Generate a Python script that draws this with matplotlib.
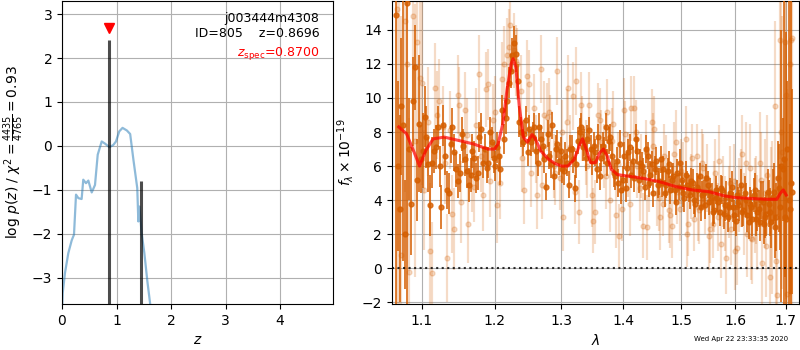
#!/usr/bin/env python3
"""p(z) y espectro 1D (G141) de j003444m4308 ID=805."""
import numpy as np
import matplotlib
matplotlib.use("Agg")
import matplotlib.pyplot as plt
from matplotlib.ticker import FixedLocator, FixedFormatter, NullLocator

OUT = "out.png"
G141 = (0.8353, 0.3686, 0.0)

# --- p(z) ---
Z_GRID = [0.0, 0.013, 0.055, 0.116, 0.178, 0.22, 0.257, 0.30, 0.36, 0.39, 0.44,
          0.483, 0.545, 0.605, 0.655, 0.728, 0.79, 0.87, 0.94, 0.99, 1.05, 1.11,
          1.19, 1.25, 1.31, 1.38, 1.40, 1.42, 1.46, 1.51, 1.565, 1.615, 1.66]
LOG_PZ = [-3.8, -3.35, -2.89, -2.44, -2.15, -2.02, -1.11, -1.19, -1.21, -0.77, -0.85,
          -0.79, -1.06, -0.89, -0.20, 0.10, 0.05, -0.03, 0.02, 0.10, 0.33, 0.41,
          0.35, 0.27, -0.32, -0.96, -1.72, -1.38, -1.98, -2.44, -3.08, -3.58, -4.2]
PEAK_Z = [0.87, 1.45]
PEAK_LOGP = [2.41, -0.80]
Z_BEST = 0.8696
Z_SPEC = 0.8700

# --- espectro: dos PAs (oscuras), dos series claras + modelo ---
WAVE_A = [1.066, 1.071, 1.076, 1.081, 1.086, 1.091, 1.096, 1.101, 1.106, 1.111,
          1.116, 1.121, 1.126, 1.131, 1.136, 1.141, 1.146, 1.151, 1.156, 1.161,
          1.166, 1.171, 1.176, 1.181, 1.186, 1.191, 1.196, 1.201, 1.206, 1.211,
          1.216, 1.221, 1.226, 1.231, 1.236, 1.241, 1.246, 1.251, 1.256, 1.261,
          1.266, 1.271, 1.276, 1.281, 1.286, 1.291, 1.296, 1.301, 1.306, 1.311,
          1.316, 1.321, 1.326, 1.331, 1.336, 1.341, 1.346, 1.351, 1.356, 1.361,
          1.366, 1.371, 1.376, 1.381, 1.386, 1.391, 1.396, 1.401, 1.406, 1.411,
          1.416, 1.421, 1.426, 1.431, 1.436, 1.441, 1.446, 1.451, 1.456, 1.461,
          1.466, 1.471, 1.476, 1.481, 1.486, 1.491, 1.496, 1.501, 1.506, 1.511,
          1.516, 1.521, 1.526, 1.531, 1.536, 1.541, 1.546, 1.551, 1.556, 1.561,
          1.566, 1.571, 1.576, 1.581, 1.586, 1.591, 1.596, 1.601, 1.606, 1.611,
          1.616, 1.621, 1.626, 1.631, 1.636, 1.641, 1.646, 1.651, 1.656, 1.661,
          1.666, 1.671, 1.676, 1.681, 1.686, 1.691, 1.696, 1.701, 1.706, 1.711]
FLUX_A = [14.9, 3.5, 8.4, 15.6, 3.8, 11.8, 8.5, 6.9, 7.7, 3.7,
          6.9, 8.3, 3.6, 6.6, 4.4, 8.3, 5.8, 5.6, 7.2, 5.7,
          5.5, 6.5, 5.6, 8.2, 7.0, 6.2, 7.4, 6.0, 6.6, 9.3,
          8.8, 10.9, 12.5, 12.6, 8.6, 7.4, 8.7, 8.2, 7.7, 6.9,
          8.3, 7.2, 4.8, 6.6, 8.4, 7.0, 6.3, 5.8, 6.6, 4.9,
          7.0, 4.7, 7.5, 8.3, 7.4, 7.6, 7.0, 7.2, 5.8, 5.4,
          7.2, 8.3, 7.5, 6.6, 5.4, 5.0, 4.6, 6.6, 5.9, 7.1,
          6.3, 7.6, 5.2, 6.0, 4.8, 6.6, 5.5, 4.4, 6.3, 5.1,
          5.0, 4.4, 5.7, 4.6, 5.4, 3.9, 4.8, 5.2, 4.1, 4.9,
          4.3, 5.0, 3.8, 4.6, 3.6, 4.4, 5.3, 3.9, 4.2, 3.4,
          4.1, 3.3, 4.6, 3.7, 3.0, 4.4, 3.6, 2.8, 3.9, 4.9,
          3.4, 4.0, 2.7, 3.6, 4.3, 2.9, 3.5, 4.0, 2.6, 3.2,
          3.8, 2.7, 4.5, 3.0, 4.7, 6.0, 6.4, 2.9, 4.0, 5.0]
ERR_A = [22, 5.5, 8, 18, 3.0, 2.5, 4.0, 2.2, 1.8, 1.8,
         1.3, 1.2, 1.3, 1.1, 1.2, 1.1, 1.0, 1.1, 1.0, 1.0,
         1.0, 1.0, 1.0, 0.9, 0.9, 0.9, 0.9, 0.9, 0.9, 0.9,
         0.9, 0.9, 1.0, 1.1, 0.9, 0.8, 0.8, 0.8, 0.9, 0.8,
         0.8, 0.8, 0.8, 0.8, 0.8, 0.8, 0.8, 0.8, 0.8, 0.8,
         0.8, 0.8, 0.8, 0.8, 0.8, 0.8, 0.8, 0.8, 0.8, 0.8,
         0.8, 0.8, 0.8, 0.8, 0.8, 0.8, 0.8, 0.8, 0.9, 0.8,
         0.8, 0.9, 0.8, 0.8, 0.8, 0.8, 0.8, 0.8, 0.8, 0.8,
         0.8, 0.8, 0.8, 0.8, 0.8, 0.8, 0.8, 0.8, 0.8, 0.8,
         0.8, 0.8, 0.8, 0.8, 0.8, 0.8, 0.8, 0.8, 0.8, 0.8,
         0.8, 0.8, 0.8, 0.9, 0.9, 0.9, 0.9, 0.9, 0.9, 0.9,
         0.9, 1.0, 1.0, 1.0, 1.0, 1.0, 1.1, 1.1, 1.2, 1.3,
         1.4, 1.5, 1.7, 2.0, 2.6, 8.0, 10.0, 11.0, 13.0, 15.0]

WAVE_C = [1.0685, 1.0735, 1.0785, 1.0835, 1.0885, 1.0935, 1.0985, 1.1035, 1.1085, 1.1135,
          1.1185, 1.1235, 1.1285, 1.1335, 1.1385, 1.1435, 1.1485, 1.1535, 1.1585, 1.1635,
          1.1685, 1.1735, 1.1785, 1.1835, 1.1885, 1.1935, 1.1985, 1.2035, 1.2085, 1.2135,
          1.2185, 1.2235, 1.2285, 1.2335, 1.2385, 1.2435, 1.2485, 1.2535, 1.2585, 1.2635,
          1.2685, 1.2735, 1.2785, 1.2835, 1.2885, 1.2935, 1.2985, 1.3035, 1.3085, 1.3135,
          1.3185, 1.3235, 1.3285, 1.3335, 1.3385, 1.3435, 1.3485, 1.3535, 1.3585, 1.3635,
          1.3685, 1.3735, 1.3785, 1.3835, 1.3885, 1.3935, 1.3985, 1.4035, 1.4085, 1.4135,
          1.4185, 1.4235, 1.4285, 1.4335, 1.4385, 1.4435, 1.4485, 1.4535, 1.4585, 1.4635,
          1.4685, 1.4735, 1.4785, 1.4835, 1.4885, 1.4935, 1.4985, 1.5035, 1.5085, 1.5135,
          1.5185, 1.5235, 1.5285, 1.5335, 1.5385, 1.5435, 1.5485, 1.5535, 1.5585, 1.5635,
          1.5685, 1.5735, 1.5785, 1.5835, 1.5885, 1.5935, 1.5985, 1.6035, 1.6085, 1.6135,
          1.6185, 1.6235, 1.6285, 1.6335, 1.6385, 1.6435, 1.6485, 1.6535, 1.6585, 1.6635,
          1.6685, 1.6735, 1.6785, 1.6835, 1.6885, 1.6935, 1.6985, 1.7035, 1.7085, 1.7135]
FLUX_C = [6.0, 9.5, 2.0, 7.0, 9.8, 5.2, 6.4, 8.9, 6.1, 6.2,
          7.1, 6.0, 8.4, 4.6, 7.3, 6.8, 5.1, 7.9, 6.4, 4.9,
          6.9, 5.3, 7.7, 6.2, 5.9, 8.0, 6.5, 7.1, 5.8, 7.6,
          9.8, 11.6, 13.2, 11.0, 8.0, 7.9, 6.8, 7.4, 8.3, 6.2,
          7.6, 6.4, 7.9, 6.1, 5.4, 7.3, 6.9, 5.7, 6.2, 7.0,
          6.4, 6.1, 8.0, 7.1, 6.5, 8.1, 6.3, 6.8, 7.7, 6.5,
          6.9, 6.2, 7.7, 5.6, 6.3, 7.3, 5.2, 4.7, 6.8, 5.5,
          5.3, 6.9, 6.2, 5.7, 7.0, 5.0, 6.1, 5.8, 4.9, 6.4,
          5.8, 4.9, 6.1, 5.2, 4.6, 5.6, 6.2, 4.4, 5.5, 4.7,
          5.1, 4.0, 4.8, 5.4, 4.3, 3.7, 4.9, 4.5, 3.3, 4.6,
          3.9, 4.7, 3.2, 4.2, 3.6, 4.8, 3.1, 4.3, 3.7, 3.3,
          4.4, 3.1, 3.8, 2.9, 4.6, 3.3, 2.7, 3.9, 3.0, 4.5,
          3.3, 4.2, 2.4, 5.3, 3.6, 5.8, 3.0, 7.0, 3.5, 4.5]
ERR_C = [5.0, 4.0, 3.2, 3.0, 2.6, 2.4, 2.0, 1.8, 1.6, 1.5,
         1.3, 1.2, 1.2, 1.1, 1.1, 1.1, 1.0, 1.0, 1.0, 1.0,
         1.0, 0.9, 0.9, 0.9, 0.9, 0.9, 0.9, 0.9, 0.9, 0.9,
         0.9, 1.0, 1.0, 1.0, 0.9, 0.8, 0.8, 0.8, 0.8, 0.8,
         0.8, 0.8, 0.8, 0.8, 0.8, 0.8, 0.8, 0.8, 0.8, 0.8,
         0.8, 0.8, 0.8, 0.8, 0.8, 0.8, 0.8, 0.8, 0.8, 0.8,
         0.8, 0.8, 0.8, 0.8, 0.8, 0.8, 0.8, 0.8, 0.8, 0.8,
         0.8, 0.8, 0.8, 0.8, 0.8, 0.8, 0.8, 0.8, 0.8, 0.8,
         0.8, 0.8, 0.8, 0.8, 0.8, 0.8, 0.8, 0.8, 0.8, 0.8,
         0.8, 0.8, 0.8, 0.8, 0.8, 0.8, 0.8, 0.8, 0.8, 0.8,
         0.8, 0.8, 0.9, 0.9, 0.9, 0.9, 0.9, 0.9, 0.9, 0.9,
         1.0, 1.0, 1.0, 1.0, 1.0, 1.1, 1.1, 1.2, 1.2, 1.3,
         1.4, 1.6, 1.8, 2.2, 2.5, 3.0, 3.5, 4.0, 5.0, 6.0]

WAVE_B = [1.068, 1.073, 1.078, 1.083, 1.088, 1.093, 1.098, 1.103, 1.108, 1.113,
          1.118, 1.123, 1.128, 1.133, 1.138, 1.143, 1.148, 1.153, 1.158, 1.163,
          1.168, 1.173, 1.178, 1.183, 1.188, 1.193, 1.198, 1.203, 1.208, 1.213,
          1.218, 1.223, 1.228, 1.233, 1.238, 1.243, 1.248, 1.253, 1.258, 1.263,
          1.268, 1.273, 1.278, 1.283, 1.288, 1.293, 1.298, 1.303, 1.308, 1.313,
          1.318, 1.323, 1.328, 1.333, 1.338, 1.343, 1.348, 1.353, 1.358, 1.363,
          1.368, 1.373, 1.378, 1.383, 1.388, 1.393, 1.398, 1.403, 1.408, 1.413,
          1.418, 1.423, 1.428, 1.433, 1.438, 1.443, 1.448, 1.453, 1.458, 1.463,
          1.468, 1.473, 1.478, 1.483, 1.488, 1.493, 1.498, 1.503, 1.508, 1.513,
          1.518, 1.523, 1.528, 1.533, 1.538, 1.543, 1.548, 1.553, 1.558, 1.563,
          1.568, 1.573, 1.578, 1.583, 1.588, 1.593, 1.598, 1.603, 1.608, 1.613,
          1.618, 1.623, 1.628, 1.633, 1.638, 1.643, 1.648, 1.653, 1.658, 1.663,
          1.668, 1.673, 1.678, 1.683, 1.688, 1.693, 1.698, 1.703, 1.708, 1.713]
FLUX_B = [15.2, 0.8, 14.5, -0.2, 14.8, 13.3, 11.2, 4.6, 8.6, -0.3,
          10.6, 9.8, 8.3, 0.6, 8.1, 2.3, 10.2, 3.9, 9.3, 2.6,
          5.5, 8.4, 11.4, 4.3, 10.5, 5.1, 8.7, 3.7, 5.0, 12.0,
          12.5, 14.3, 12.8, 12.0, 10.4, 4.6, 11.3, 5.6, 9.4, 4.3,
          11.7, 9.0, 8.9, 8.2, 6.0, 11.6, 5.3, 3.0, 8.6, 7.1,
          10.1, 11.0, 3.3, 8.2, 6.8, 9.6, 4.3, 3.3, 9.0, 7.4,
          6.6, 9.2, 4.0, 8.5, 3.1, 1.9, 3.5, 7.9, 6.1, 9.4,
          9.4, 6.0, 4.7, 2.5, 6.8, 5.2, 8.6, 8.2, 4.4, 3.0,
          3.8, 5.9, 3.4, 2.5, 6.7, 4.5, 3.5, 5.5, 7.6, 2.6,
          4.8, 2.9, 6.6, 3.4, 6.2, 4.0, 5.3, 2.3, 2.6, 5.6,
          3.0, 1.4, 4.5, 0.6, 3.9, 2.3, 5.1, 1.2, 4.3, 6.7,
          3.2, 2.0, 5.9, 1.7, 3.7, 2.7, 6.2, 0.3, 4.4, 5.5,
          -0.5, 3.0, 9.5, -1.6, 13.4, 6.8, 13.3, -1.5, 12.0, 13.5]
ERR_B = [18, 14, 10, 9, 8, 6, 5, 3.5, 3.2, 3.0,
         2.6, 2.5, 2.4, 2.6, 2.3, 2.4, 2.3, 2.4, 2.2, 2.3,
         2.2, 2.2, 2.3, 2.1, 2.2, 2.1, 2.1, 2.2, 2.1, 2.2,
         2.2, 2.3, 2.2, 2.1, 2.1, 2.0, 2.1, 2.0, 2.0, 2.0,
         2.0, 2.0, 2.0, 2.0, 1.9, 2.0, 1.9, 2.0, 1.9, 1.9,
         2.0, 2.0, 1.9, 1.9, 1.9, 1.9, 1.9, 1.9, 1.9, 1.9,
         1.9, 1.9, 1.9, 1.9, 1.9, 1.9, 1.9, 1.9, 1.9, 1.9,
         1.9, 1.9, 1.9, 1.9, 1.9, 1.9, 1.9, 1.9, 1.9, 1.9,
         1.9, 1.9, 1.9, 1.9, 1.9, 1.9, 1.9, 1.9, 1.9, 1.9,
         1.9, 1.9, 1.9, 2.0, 2.0, 2.0, 2.0, 2.0, 2.0, 2.0,
         2.0, 2.0, 2.1, 2.1, 2.1, 2.1, 2.2, 2.2, 2.2, 2.3,
         2.4, 2.5, 2.6, 2.6, 2.8, 2.8, 3.0, 3.0, 3.2, 3.5,
         4.0, 4.5, 5.0, 6.0, 7.0, 8.0, 10.0, 12.0, 14.0, 16.0]

WAVE_D = [1.0705, 1.0805, 1.0905, 1.1005, 1.1105, 1.1205, 1.1305, 1.1405, 1.1505, 1.1605,
          1.1705, 1.1805, 1.1905, 1.2005, 1.2105, 1.2205, 1.2305, 1.2405, 1.2505, 1.2605,
          1.2705, 1.2805, 1.2905, 1.3005, 1.3105, 1.3205, 1.3305, 1.3405, 1.3505, 1.3605,
          1.3705, 1.3805, 1.3905, 1.4005, 1.4105, 1.4205, 1.4305, 1.4405, 1.4505, 1.4605,
          1.4705, 1.4805, 1.4905, 1.5005, 1.5105, 1.5205, 1.5305, 1.5405, 1.5505, 1.5605,
          1.5705, 1.5805, 1.5905, 1.6005, 1.6105, 1.6205, 1.6305, 1.6405, 1.6505, 1.6605,
          1.6705, 1.6805, 1.6905, 1.7005, 1.7105]
FLUX_D = [3.5, 12.0, 7.5, 10.9, 1.0, 9.0, 6.2, 3.2, 9.6, 7.8,
          4.8, 6.6, 10.8, 9.2, 11.1, 13.0, 12.2, 6.5, 10.8, 7.0,
          4.9, 9.2, 5.6, 8.0, 10.6, 4.5, 9.6, 6.0, 2.8, 8.7,
          5.4, 7.5, 6.1, 9.3, 3.8, 8.0, 6.0, 2.4, 7.2, 4.1,
          6.6, 3.1, 7.4, 5.7, 2.0, 6.5, 3.6, 5.9, 1.9, 4.2,
          6.3, 3.2, 5.0, 1.0, 4.7, 6.2, 1.8, 4.0, 5.2, 1.3,
          3.6, 0.4, 8.0, 10.2, 13.4]
ERR_D = [15, 10, 8, 6, 4, 2.6, 2.4, 2.3, 2.2, 2.2,
         2.1, 2.1, 2.1, 2.1, 2.2, 2.2, 2.1, 2.0, 2.0, 2.0,
         2.0, 2.0, 1.9, 1.9, 1.9, 1.9, 1.9, 1.9, 1.9, 1.9,
         1.9, 1.9, 1.9, 1.9, 1.9, 1.9, 1.9, 1.9, 1.9, 1.9,
         1.9, 1.9, 1.9, 1.9, 1.9, 2.0, 2.0, 2.0, 2.0, 2.1,
         2.1, 2.2, 2.2, 2.3, 2.3, 2.4, 2.5, 2.6, 2.8, 3.0,
         3.5, 5.0, 8.0, 12.0, 15.0]

WAVE_MODEL = [1.07, 1.08, 1.09, 1.097, 1.105, 1.115, 1.13, 1.15, 1.17, 1.19,
              1.20, 1.205, 1.212, 1.218, 1.224, 1.227, 1.231, 1.236, 1.242, 1.248,
              1.255, 1.26, 1.268, 1.28, 1.29, 1.30, 1.31, 1.32, 1.328, 1.333,
              1.339, 1.346, 1.354, 1.361, 1.367, 1.373, 1.38, 1.39, 1.40, 1.43,
              1.46, 1.49, 1.52, 1.55, 1.58, 1.60, 1.63, 1.66, 1.682, 1.689,
              1.695, 1.701]
FLUX_MODEL = [8.3, 7.9, 6.8, 6.0, 6.9, 7.6, 7.7, 7.5, 7.3, 7.0,
              7.0, 7.3, 8.5, 10.5, 12.0, 12.3, 11.8, 9.5, 7.7, 7.4,
              7.85, 7.6, 6.9, 6.4, 6.15, 6.0, 6.0, 6.4, 7.2, 7.6,
              7.0, 6.2, 6.2, 6.8, 7.0, 6.6, 5.8, 5.5, 5.45, 5.3,
              5.1, 4.8, 4.6, 4.5, 4.25, 4.15, 4.1, 4.05, 4.05, 4.4,
              4.6, 4.3]

WAVE_TICKS = [1.1, 1.2, 1.3, 1.4, 1.5, 1.6, 1.7]
WAVE_LABELS = ["1.1", "1.2", "1.3", "1.4", "1.5", "1.6", "1.7"]
STAMP = "Wed Apr 22 23:33:35 2020"


def plot_pz(ax):
    ax.plot(Z_GRID, LOG_PZ, color="C0", alpha=0.5, lw=1.6)
    ax.vlines(PEAK_Z, -10, PEAK_LOGP, color="k", alpha=0.7, lw=2.2)
    ax.plot(Z_SPEC, PEAK_LOGP[0] + 0.27, marker="v", color="r", ms=7, ls="none")
    ax.set_xlim(0, 4.97)
    ax.set_ylim(-3.6, 3.3)
    ax.set_xticks([0, 1, 2, 3, 4])
    ax.set_yticks([-3, -2, -1, 0, 1, 2, 3])
    ax.grid()
    ax.set_axisbelow(True)
    ax.set_xlabel("$z$")
    ax.set_ylabel(r"log $p(z)$ / $\chi^2=\frac{4435}{4765}=0.93$")
    ax.text(0.95, 0.965, f"j003444m4308\nID=805    z={Z_BEST:.4f}",
            transform=ax.transAxes, ha="right", va="top", fontsize=9)
    ax.text(0.95, 0.825, r"$z_\mathrm{spec}$" + f"={Z_SPEC:.4f}",
            transform=ax.transAxes, ha="right", va="center", fontsize=9, color="r")


def plot_spec(ax):
    # puntos claros
    for w, f, e in [(WAVE_B, FLUX_B, ERR_B), (WAVE_D, FLUX_D, ERR_D)]:
        ax.errorbar(w, f, yerr=e, marker="o", ms=3.5, ls="none",
                    color=G141, alpha=0.22, elinewidth=1.6, zorder=2)
    # puntos oscuros
    for w, f, e in [(WAVE_A, FLUX_A, ERR_A), (WAVE_C, FLUX_C, ERR_C)]:
        ax.errorbar(w, f, yerr=e, marker="o", ms=3.5, ls="none",
                    color=G141, alpha=0.8, elinewidth=1.4, zorder=3)
    ax.plot(WAVE_MODEL, FLUX_MODEL, color="r", alpha=0.7, lw=2.2, zorder=5)
    ax.axhline(0, color="k", ls=":", lw=1.5, alpha=0.8, zorder=6)
    ax.set_xscale("log")
    ax.set_xlim(1.061, 1.727)
    ax.set_ylim(-2.1, 15.7)
    ax.xaxis.set_major_locator(FixedLocator(WAVE_TICKS))
    ax.xaxis.set_major_formatter(FixedFormatter(WAVE_LABELS))
    ax.xaxis.set_minor_locator(NullLocator())
    ax.set_yticks([-2, 0, 2, 4, 6, 8, 10, 12, 14])
    ax.grid()
    ax.set_axisbelow(True)
    ax.set_xlabel(r"$\lambda$")
    ax.set_ylabel(r"$f_\lambda\times10^{-19}$")


def main():
    fig = plt.figure(figsize=(8, 3.5), dpi=100)
    ax1 = fig.add_axes([0.0775, 0.1314, 0.3388, 0.866])
    ax2 = fig.add_axes([0.4896, 0.1314, 0.509, 0.866])
    plot_pz(ax1)
    plot_spec(ax2)
    fig.text(0.985, 0.031, STAMP, ha="right", va="center", fontsize=5)
    fig.savefig(OUT, dpi=100)


if __name__ == "__main__":
    main()
